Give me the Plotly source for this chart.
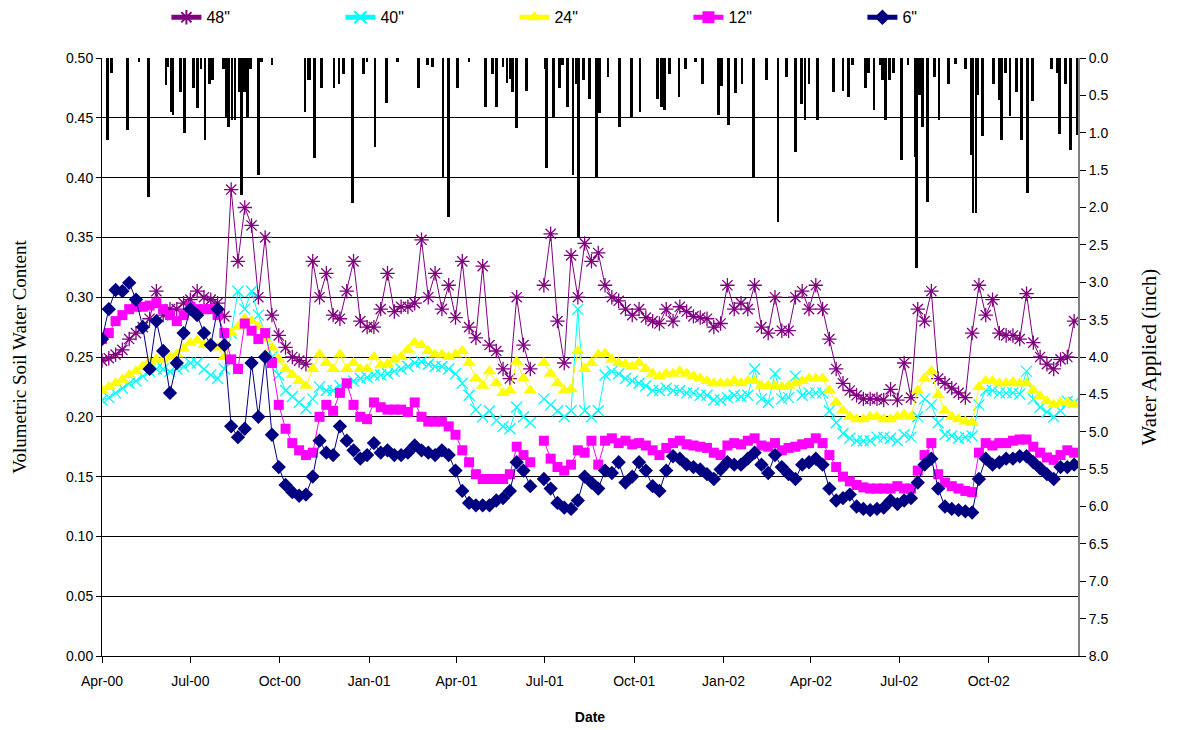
import pandas as pd
import plotly.graph_objects as go

# weekly soil water readings (volumetric), starting 1 Apr 2000
start_date = "2000-04-01"

vwc_48 = [0.247, 0.249, 0.252, 0.256, 0.265, 0.27, 0.275, 0.282, 0.305, 0.285,
          0.29, 0.29, 0.295, 0.298, 0.305, 0.30, 0.298, 0.295, 0.284, 0.39,
          0.33, 0.375, 0.36, 0.30, 0.35, 0.285, 0.268, 0.258, 0.25, 0.247,
          0.244, 0.33, 0.30, 0.32, 0.285, 0.282, 0.305, 0.33, 0.28, 0.275,
          0.275, 0.29, 0.32, 0.288, 0.292, 0.292, 0.295, 0.348, 0.30, 0.32,
          0.29, 0.31, 0.283, 0.33, 0.275, 0.266, 0.326, 0.26, 0.255, 0.24,
          0.232, 0.30, 0.26, 0.24, None, 0.31, 0.353, 0.28, 0.245, 0.335,
          0.30, 0.345, 0.33, 0.337, 0.31, 0.30, 0.297, 0.29, 0.285, 0.29,
          0.283, 0.28, 0.278, 0.29, 0.28, 0.292, 0.288, 0.284, 0.283, 0.282,
          0.275, 0.278, 0.31, 0.29, 0.295, 0.29, 0.31, 0.275, 0.27, 0.30,
          0.272, 0.272, 0.30, 0.305, 0.29, 0.31, 0.29, 0.265, 0.24, 0.228,
          0.222, 0.218, 0.215, 0.215, 0.215, 0.214, 0.223, 0.214, 0.245, 0.216,
          0.29, 0.28, 0.305, 0.232, 0.228, 0.224, 0.22, 0.216, 0.27, 0.31,
          0.285, 0.298, 0.27, 0.268, 0.268, 0.265, 0.303, 0.262, 0.25, 0.244,
          0.24, 0.248, 0.25, 0.28]

vwc_40 = [0.214, 0.216, 0.22, 0.224, 0.228, 0.23, 0.234, 0.238, 0.24, 0.24,
          0.238, 0.24, 0.242, 0.245, 0.245, 0.24, 0.235, 0.232, 0.24, 0.27,
          0.305, 0.29, 0.305, 0.285, 0.27, 0.25, 0.235, 0.222, 0.217, 0.212,
          0.207, 0.215, 0.225, 0.222, 0.222, 0.226, 0.228, 0.23, 0.232, 0.233,
          0.235, 0.235, 0.236, 0.238, 0.24, 0.242, 0.245, 0.246, 0.244, 0.242,
          0.242, 0.24, 0.236, 0.228, 0.218, 0.206, 0.2, 0.205, 0.197, 0.192,
          0.19, 0.208, 0.2, 0.195, None, 0.215, 0.21, 0.205, 0.2, 0.205,
          0.29, 0.205, 0.2, 0.205, 0.235, 0.238, 0.236, 0.232, 0.23, 0.228,
          0.226, 0.222, 0.222, 0.224, 0.222, 0.222, 0.22, 0.22, 0.218, 0.218,
          0.214, 0.214, 0.216, 0.218, 0.217, 0.218, 0.24, 0.215, 0.212, 0.236,
          0.215, 0.216, 0.234, 0.218, 0.22, 0.22, 0.22, 0.205, 0.195, 0.186,
          0.182, 0.18, 0.18, 0.18, 0.183, 0.183, 0.182, 0.18, 0.185, 0.183,
          0.2, 0.215, 0.21, 0.195, 0.185, 0.184, 0.182, 0.183, 0.184, 0.21,
          0.222, 0.222, 0.22, 0.22, 0.22, 0.219, 0.238, 0.215, 0.208, 0.204,
          0.2, 0.205, 0.213, 0.212]

vwc_24 = [0.222, 0.225, 0.228, 0.231, 0.235, 0.238, 0.242, 0.246, 0.248, 0.248,
          0.25, 0.252, 0.257, 0.262, 0.264, 0.26, 0.262, 0.258, 0.25, 0.27,
          0.275, 0.282, 0.28, 0.275, 0.265, 0.258, 0.248, 0.24, 0.235, 0.23,
          0.226, 0.24, 0.252, 0.245, 0.24, 0.252, 0.24, 0.245, 0.24, 0.24,
          0.25, 0.243, 0.244, 0.248, 0.25, 0.256, 0.262, 0.26, 0.255, 0.252,
          0.252, 0.25, 0.252, 0.255, 0.245, 0.232, 0.226, 0.238, 0.228, 0.22,
          0.222, 0.246, 0.232, 0.222, None, 0.245, 0.236, 0.228, 0.222, 0.223,
          0.255, 0.24, 0.245, 0.252, 0.253, 0.248, 0.245, 0.244, 0.242, 0.245,
          0.24, 0.236, 0.234, 0.236, 0.236, 0.238, 0.236, 0.234, 0.232, 0.23,
          0.228, 0.228, 0.228, 0.23, 0.228, 0.23, 0.23, 0.226, 0.226, 0.226,
          0.225, 0.226, 0.228, 0.23, 0.232, 0.232, 0.232, 0.222, 0.212, 0.205,
          0.2, 0.198, 0.198, 0.2, 0.2, 0.198, 0.198, 0.2, 0.202, 0.2,
          0.222, 0.232, 0.238, 0.218, 0.205, 0.2, 0.198, 0.196, 0.195, 0.225,
          0.23, 0.23, 0.228, 0.228, 0.229, 0.228, 0.228, 0.222, 0.217, 0.213,
          0.21, 0.212, 0.212, 0.21]

vwc_12 = [0.265, 0.27, 0.28, 0.285, 0.29, 0.292, 0.292, 0.293, 0.295, 0.29,
          0.285, 0.28, 0.285, 0.292, 0.29, 0.29, 0.29, 0.285, 0.27, 0.248,
          0.24, 0.278, 0.272, 0.265, 0.27, 0.245, 0.21, 0.19, 0.178, 0.172,
          0.168, 0.17, 0.2, 0.21, 0.205, 0.22, 0.228, 0.21, 0.2, 0.198,
          0.212, 0.208, 0.206, 0.206, 0.206, 0.204, 0.212, 0.2, 0.196, 0.196,
          0.196, 0.192, 0.185, 0.172, 0.162, 0.152, 0.148, 0.148, 0.148, 0.148,
          0.152, 0.175, 0.168, 0.162, None, 0.18, 0.165, 0.158, 0.155, 0.16,
          0.172, 0.17, 0.18, 0.16, 0.18, 0.182, 0.178, 0.18, 0.177, 0.178,
          0.176, 0.172, 0.168, 0.174, 0.178, 0.18, 0.177, 0.176, 0.175, 0.174,
          0.17, 0.168, 0.176, 0.178, 0.177, 0.18, 0.182, 0.176, 0.175, 0.178,
          0.172, 0.174, 0.175, 0.177, 0.178, 0.182, 0.178, 0.168, 0.158, 0.15,
          0.146, 0.143, 0.141, 0.14, 0.14, 0.14, 0.14, 0.142, 0.14, 0.14,
          0.155, 0.168, 0.178, 0.152, 0.145, 0.142, 0.14, 0.138, 0.137, 0.17,
          0.178, 0.176, 0.178, 0.178, 0.18, 0.181, 0.181, 0.175, 0.17, 0.166,
          0.164, 0.168, 0.172, 0.17]

vwc_6 = [0.265, 0.29, 0.306, 0.305, 0.312, 0.298, 0.275, 0.24, 0.28, 0.255,
         0.22, 0.245, 0.27, 0.29, 0.285, 0.27, 0.26, 0.29, 0.26, 0.192,
         0.183, 0.19, 0.245, 0.2, 0.25, 0.185, 0.158, 0.143, 0.137, 0.134,
         0.135, 0.15, 0.18, 0.17, 0.168, 0.192, 0.18, 0.172, 0.165, 0.168,
         0.178, 0.17, 0.172, 0.168, 0.168, 0.17, 0.176, 0.172, 0.17, 0.168,
         0.172, 0.168, 0.155, 0.138, 0.128, 0.126, 0.126, 0.126, 0.13, 0.132,
         0.138, 0.162, 0.155, 0.142, None, 0.148, 0.14, 0.128, 0.124, 0.123,
         0.13, 0.15, 0.145, 0.14, 0.155, 0.153, 0.162, 0.145, 0.15, 0.162,
         0.155, 0.142, 0.138, 0.155, 0.167, 0.165, 0.16, 0.158, 0.156, 0.152,
         0.148, 0.156, 0.162, 0.16, 0.16, 0.165, 0.17, 0.16, 0.153, 0.168,
         0.158, 0.152, 0.148, 0.16, 0.162, 0.165, 0.16, 0.14, 0.13, 0.132,
         0.135, 0.125, 0.123, 0.122, 0.123, 0.124, 0.13, 0.127, 0.13, 0.132,
         0.145, 0.16, 0.165, 0.14, 0.125, 0.123, 0.122, 0.121, 0.12, 0.148,
         0.165, 0.16, 0.162, 0.165, 0.165, 0.167, 0.167, 0.162, 0.157, 0.152,
         0.148, 0.158, 0.158, 0.16]

# irrigation / rain events (inch)
irr_dates = [
    "2000-04-07", "2000-04-11", "2000-04-27", "2000-05-09", "2000-05-19", "2000-06-06",
    "2000-06-08", "2000-06-11", "2000-06-13", "2000-06-21", "2000-06-25", "2000-07-04",
    "2000-07-08", "2000-07-12", "2000-07-16", "2000-07-21", "2000-07-24", "2000-08-04",
    "2000-08-07", "2000-08-09", "2000-08-13", "2000-08-16", "2000-08-20", "2000-08-23",
    "2000-08-26", "2000-08-29", "2000-09-01", "2000-09-09", "2000-09-12", "2000-09-23",
    "2000-10-27", "2000-10-30", "2000-11-01", "2000-11-06", "2000-11-13", "2000-11-26",
    "2000-12-01", "2000-12-06", "2000-12-15", "2000-12-26", "2000-12-30",
    "2001-01-07", "2001-01-19", "2001-01-30", "2001-02-21", "2001-03-02", "2001-03-07",
    "2001-03-18", "2001-03-24", "2001-04-02", "2001-04-14", "2001-05-01", "2001-05-08",
    "2001-05-12", "2001-05-19", "2001-05-23", "2001-05-26", "2001-05-29", "2001-06-02",
    "2001-06-12", "2001-07-02", "2001-07-03", "2001-07-10", "2001-07-16", "2001-07-19",
    "2001-07-24", "2001-07-30", "2001-08-02", "2001-08-05", "2001-08-10", "2001-08-16",
    "2001-08-23", "2001-08-26", "2001-09-04", "2001-09-16", "2001-09-28", "2001-10-07",
    "2001-10-25", "2001-10-29", "2001-11-01", "2001-11-06", "2001-11-16", "2001-11-23",
    "2001-12-03", "2001-12-10", "2001-12-27", "2001-12-30",
    "2002-01-06", "2002-01-13", "2002-01-20", "2002-02-01", "2002-02-14", "2002-02-26",
    "2002-03-07", "2002-03-16", "2002-03-22", "2002-03-26", "2002-03-30", "2002-04-08",
    "2002-04-24", "2002-05-04", "2002-05-10", "2002-05-14", "2002-05-27", "2002-05-30",
    "2002-06-05", "2002-06-11", "2002-06-14", "2002-06-17", "2002-06-21", "2002-06-25",
    "2002-07-03", "2002-07-10", "2002-07-18", "2002-07-19", "2002-07-22", "2002-07-25",
    "2002-07-30", "2002-08-06", "2002-08-11", "2002-08-21", "2002-08-28", "2002-09-07",
    "2002-09-13", "2002-09-15", "2002-09-18", "2002-09-20", "2002-09-24", "2002-09-25",
    "2002-10-06", "2002-10-12", "2002-10-14", "2002-10-18", "2002-10-23", "2002-10-30",
    "2002-11-04", "2002-11-10", "2002-11-15", "2002-12-05", "2002-12-11", "2002-12-13",
    "2002-12-19", "2002-12-24", "2002-12-31"]

irr_inch = [
    1.10, 0.20, 0.96, 0.05, 1.86, 0.36, 0.12, 0.72, 0.76, 0.45, 1.00, 0.40,
    0.67, 0.15, 1.10, 0.35, 0.30, 0.15, 0.80, 0.92, 0.83, 0.83, 0.45, 1.83,
    0.45, 0.79, 0.15, 1.57, 0.05, 0.10, 0.72, 0.30, 0.30, 1.34, 0.40, 0.40,
    0.35, 0.22, 1.94, 0.22, 0.05,
    1.19, 0.60, 0.05, 0.40, 0.10, 0.12, 1.61, 2.13, 0.40, 0.05, 0.65, 0.22,
    0.65, 0.12, 0.33, 0.28, 0.45, 0.94, 0.44, 0.15, 1.47, 0.80, 0.40, 0.10,
    0.65, 1.57, 0.35, 2.41, 0.30, 0.55, 1.61, 0.73, 0.25, 0.92, 0.79, 0.72,
    0.55, 0.65, 0.70, 0.22, 0.52, 0.15, 0.05, 0.35, 0.76, 0.37,
    0.90, 0.47, 0.35, 1.59, 0.30, 2.19, 0.25, 1.26, 0.61, 0.83, 0.35, 0.83,
    0.45, 0.44, 0.52, 0.10, 0.40, 0.20, 0.70, 0.10, 0.30, 0.83, 0.30, 0.20,
    1.36, 0.10, 1.32, 2.81, 0.50, 0.92, 1.93, 0.25, 0.83, 0.35, 0.08, 0.15,
    1.30, 2.08, 2.08, 0.50, 0.85, 1.05, 0.35, 0.56, 1.10, 0.20, 0.78, 0.45,
    1.10, 1.81, 0.58, 0.15, 0.20, 1.01, 0.35, 1.23, 1.03]

depth_names = ['48"', '40"', '24"', '12"', '6"']
series_vals = [vwc_48, vwc_40, vwc_24, vwc_12, vwc_6]
colors = ["#800080", "#00FFFF", "#FFFF00", "#FF00FF", "#000080"]
symbols = ["asterisk-open", "x-thin-open", "triangle-up", "square", "diamond"]
sizes = [12, 11, 12, 10, 11]

dates = pd.date_range(start_date, periods=len(vwc_6), freq="7D")

fig = go.Figure()

# water applied bars hang from the top (reversed right axis)
fig.add_trace(go.Bar(x=pd.to_datetime(irr_dates), y=irr_inch, yaxis="y2",
                     marker=dict(color="black", line=dict(width=0)),
                     width=2.8 * 86400000, showlegend=False, hoverinfo="x+y"))

for name, vals, col, sym, sz in zip(depth_names, series_vals, colors, symbols, sizes):
    if sym.endswith("-open"):
        mk = dict(symbol=sym, size=sz, color=col, line=dict(color=col, width=1.3))
    else:
        mk = dict(symbol=sym, size=sz, color=col, line=dict(width=0))
    fig.add_trace(go.Scatter(x=dates, y=vals, mode="lines+markers", name=name,
                             line=dict(color=col, width=1), marker=mk,
                             connectgaps=False))

tick_font = dict(family="Liberation Sans Narrow, Arial Narrow, Arial, sans-serif",
                 size=14, color="black")
serif = "Times New Roman, Liberation Serif, serif"

# page body adds ~8px offset, margins compensate
fig.update_layout(
    width=1178, height=730,
    margin=dict(l=94, r=108, t=50, b=82, autoexpand=False),
    plot_bgcolor="white", paper_bgcolor="white",
    bargap=0,
    xaxis=dict(type="date", range=["2000-04-01", "2003-01-01"], automargin=False,
               tickvals=pd.date_range("2000-04-01", "2002-10-01", freq="3MS"),
               tickformat="%b-%y", ticks="outside", ticklen=6, tickcolor="black",
               ticklabelstandoff=6,
               showline=True, linecolor="black", linewidth=1,
               showgrid=False, zeroline=False, tickfont=tick_font,
               title=dict(text="<b>Date</b>", standoff=24,
                          font=dict(family="Arial, sans-serif", size=14, color="black"))),
    yaxis=dict(range=[0, 0.5], dtick=0.05, tickformat=".2f", automargin=False,
               ticks="outside", ticklen=5, tickcolor="black",
               showline=True, linecolor="black", linewidth=1, mirror=False,
               showgrid=True, gridcolor="black", gridwidth=1, zeroline=False,
               tickfont=tick_font,
               title=dict(text="Volumetric Soil Water Content", standoff=34,
                          font=dict(family=serif, size=19, color="black"))),
    yaxis2=dict(overlaying="y", side="right", range=[8, 0], dtick=0.5, automargin=False,
                tickformat=".1f", ticks="outside", ticklen=6, tickcolor="black",
                showline=True, linecolor="#808080", linewidth=2,
                showgrid=False, zeroline=False, tickfont=tick_font,
                title=dict(text="Water Applied (inch)", standoff=34,
                           font=dict(family=serif, size=21, color="black"))),
    legend=dict(orientation="h", x=0.066, y=1.068, xanchor="left", yanchor="middle",
                font=dict(family="Liberation Sans Narrow, Arial Narrow, Arial, sans-serif",
                          size=16, color="black"),
                entrywidth=129, entrywidthmode="pixels", itemsizing="constant",
                bgcolor="rgba(0,0,0,0)"),
)

fig.write_html("out.html")
